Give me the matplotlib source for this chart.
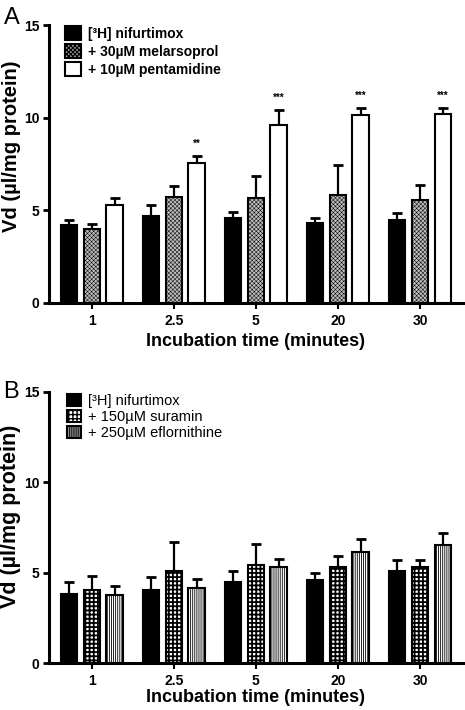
import numpy as np
import matplotlib
matplotlib.use('Agg')
import matplotlib.pyplot as plt

plt.rcParams['font.family'] = ['Liberation Sans', 'DejaVu Sans']
plt.rcParams['font.weight'] = 'bold'
plt.rcParams['axes.labelweight'] = 'bold'

times = ['1', '2.5', '5', '20', '30']

# panel A
nif_a = [4.2, 4.7, 4.58, 4.29, 4.47]
nif_a_err = [0.27, 0.56, 0.31, 0.31, 0.36]
mel_a = [3.98, 5.71, 5.68, 5.82, 5.57]
mel_a_err = [0.27, 0.58, 1.17, 1.61, 0.81]
pent_a = [5.3, 7.57, 9.6, 10.16, 10.2]
pent_a_err = [0.36, 0.34, 0.8, 0.35, 0.34]
sig_a = ['', '**', '***', '***', '***']

# panel B
nif_b = [3.81, 4.02, 4.51, 4.62, 5.12]
nif_b_err = [0.68, 0.75, 0.57, 0.37, 0.57]
sur_b = [4.05, 5.08, 5.43, 5.32, 5.32]
sur_b_err = [0.77, 1.62, 1.18, 0.61, 0.37]
efl_b = [3.76, 4.16, 5.32, 6.13, 6.54]
efl_b_err = [0.53, 0.48, 0.43, 0.72, 0.63]

labels_a = ['[³H] nifurtimox', '+ 30µM melarsoprol', '+ 10µM pentamidine']
labels_b = ['[³H] nifurtimox', '+ 150µM suramin', '+ 250µM eflornithine']

# (facecolor, hatch, hatch linewidth)
styles_a = [('black', None, 1.0), ('#bdbdbd', 'xxxxxxxx', 0.35), ('white', None, 1.0)]
styles_b = [('black', None, 1.0), ('white', '++++', 1.3), ('white', '||||||||', 0.6)]

fig = plt.figure(figsize=(4.65, 7.1), dpi=100)
axA = fig.add_axes([0.106, 0.5737, 0.889, 0.391])
axB = fig.add_axes([0.106, 0.0658, 0.889, 0.3825])

x = np.arange(len(times))
w = 0.2
offs = [-0.277, 0, 0.277]


def panel(ax, series, errs, styles, labels, sig=None, ylsize=14.5):
    handles = []
    for i in range(3):
        fc, hatch, hlw = styles[i]
        with plt.rc_context({'hatch.linewidth': hlw}):
            b = ax.bar(x + offs[i], series[i], w, facecolor=fc, hatch=hatch,
                       edgecolor='black', linewidth=1.5, zorder=3, label=labels[i])
        handles.append(b)
        ax.errorbar(x + offs[i], series[i], yerr=[np.zeros(len(x)), errs[i]],
                    fmt='none', ecolor='black', elinewidth=1.6, capsize=3.5,
                    capthick=2, zorder=2)
    if sig:
        for j in range(len(x)):
            if sig[j]:
                ax.text(x[j] + offs[2], series[2][j] + errs[2][j] + 0.65, sig[j],
                        ha='center', va='center', fontsize=7)
    ax.set_xlim(-0.518, 4.52)
    ax.set_ylim(0, 15)
    ax.set_yticks([0, 5, 10, 15])
    ax.set_xticks(x)
    ax.set_xticklabels(times)
    ax.spines['top'].set_visible(False)
    ax.spines['right'].set_visible(False)
    ax.spines['left'].set_linewidth(2.2)
    ax.spines['bottom'].set_linewidth(2.2)
    ax.tick_params(axis='y', direction='out', length=4, width=2, labelsize=10, pad=3)
    ax.tick_params(axis='x', direction='out', length=4, width=1.5, labelsize=10, pad=4)
    ax.set_xlabel('Incubation time (minutes)', fontsize=13, fontweight='bold')
    ax.set_ylabel('Vd (µl/mg protein)', fontsize=ylsize, fontweight='bold')
    return handles


hA = panel(axA, [nif_a, mel_a, pent_a], [nif_a_err, mel_a_err, pent_a_err],
           styles_a, labels_a, sig_a, ylsize=14.5)
hB = panel(axB, [nif_b, sur_b, efl_b], [nif_b_err, sur_b_err, efl_b_err],
           styles_b, labels_b, ylsize=15.5)

axA.xaxis.labelpad = 4
axB.xaxis.labelpad = 0.5
axA.yaxis.set_label_coords(-0.068, 0.564)
axB.yaxis.set_label_coords(-0.068, 0.542)

axA.legend(handles=hA, loc='upper left', bbox_to_anchor=(0.022, 1.02), frameon=False,
           prop={'size': 10, 'weight': 'bold'}, handlelength=1.1, handleheight=1.1,
           handletextpad=0.5, labelspacing=0.25, borderpad=0)
axB.legend(handles=hB, loc='upper left', bbox_to_anchor=(0.024, 1.02), frameon=False,
           prop={'size': 10.5, 'weight': 'normal'}, handlelength=1.0, handleheight=0.9,
           handletextpad=0.5, labelspacing=0.15, borderpad=0)

fig.text(0.008, 0.99, 'A', fontsize=17, fontweight='normal', va='top', ha='left')
fig.text(0.006, 0.463, 'B', fontsize=17, fontweight='normal', va='top', ha='left')

fig.savefig('out.png', dpi=100)
